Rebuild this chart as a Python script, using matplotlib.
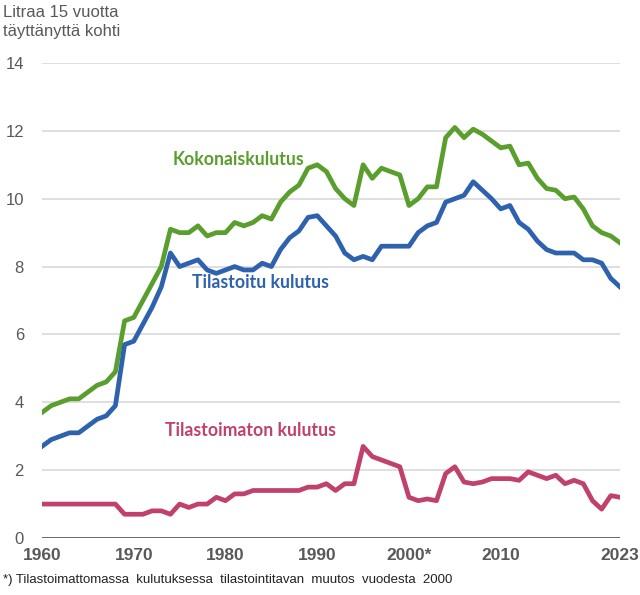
import matplotlib
matplotlib.use("Agg")
import matplotlib.pyplot as plt

years = list(range(1960, 2024))

kokonais = [3.7, 3.9, 4.0, 4.1, 4.1, 4.3, 4.5, 4.6, 4.9, 6.4,
            6.5, 7.0, 7.5, 8.0, 9.1, 9.0, 9.0, 9.2, 8.9, 9.0,
            9.0, 9.3, 9.2, 9.3, 9.5, 9.4, 9.9, 10.2, 10.4, 10.9,
            11.0, 10.8, 10.3, 10.0, 9.8, 11.0, 10.6, 10.9, 10.8, 10.7,
            9.8, 10.0, 10.35, 10.35, 11.8, 12.1, 11.8, 12.05, 11.9, 11.7,
            11.5, 11.55, 11.0, 11.05, 10.6, 10.3, 10.25, 10.0, 10.05, 9.7,
            9.2, 9.0, 8.9, 8.7]

tilastoitu = [2.7, 2.9, 3.0, 3.1, 3.1, 3.3, 3.5, 3.6, 3.9, 5.7,
              5.8, 6.3, 6.8, 7.4, 8.4, 8.0, 8.1, 8.2, 7.9, 7.8,
              7.9, 8.0, 7.9, 7.9, 8.1, 8.0, 8.5, 8.85, 9.05, 9.45,
              9.5, 9.2, 8.9, 8.4, 8.2, 8.3, 8.2, 8.6, 8.6, 8.6,
              8.6, 9.0, 9.2, 9.3, 9.9, 10.0, 10.1, 10.5, 10.25, 10.0,
              9.7, 9.8, 9.3, 9.1, 8.75, 8.5, 8.4, 8.4, 8.4, 8.2,
              8.2, 8.1, 7.65, 7.4]

tilastoimaton = [1.0, 1.0, 1.0, 1.0, 1.0, 1.0, 1.0, 1.0, 1.0, 0.7,
                 0.7, 0.7, 0.8, 0.8, 0.7, 1.0, 0.9, 1.0, 1.0, 1.2,
                 1.1, 1.3, 1.3, 1.4, 1.4, 1.4, 1.4, 1.4, 1.4, 1.5,
                 1.5, 1.6, 1.4, 1.6, 1.6, 2.7, 2.4, 2.3, 2.2, 2.1,
                 1.2, 1.1, 1.15, 1.1, 1.9, 2.1, 1.65, 1.6, 1.65, 1.75,
                 1.75, 1.75, 1.7, 1.95, 1.85, 1.75, 1.85, 1.6, 1.7, 1.6,
                 1.1, 0.85, 1.25, 1.2]

xtick_years = [1960, 1970, 1980, 1990, 2000, 2010, 2023]
xtick_labels = ["1960", "1970", "1980", "1990", "2000*", "2010", "2023"]
yticks = [0, 2, 4, 6, 8, 10, 12, 14]

GREEN = "#5a9f2e"
BLUE = "#2f62ae"
PINK = "#c1416e"
GREY = "#595959"

plt.rcParams['font.family'] = ['Liberation Sans', 'DejaVu Sans']

W, H = 640, 595
fig = plt.figure(figsize=(W / 100, H / 100), dpi=100)
ax = fig.add_axes([42 / W, 1 - 538 / H, (620 - 42) / W, (538 - 63) / H])

ax.plot(years, kokonais, color=GREEN, lw=3.4, solid_joinstyle='round', zorder=3)
ax.plot(years, tilastoitu, color=BLUE, lw=3.4, solid_joinstyle='round', zorder=3)
ax.plot(years, tilastoimaton, color=PINK, lw=3.4, solid_joinstyle='round', zorder=3)

ax.set_xlim(1960, 2023)
ax.set_ylim(0, 14)
ax.set_yticks(yticks)
ax.set_yticklabels([str(v) for v in yticks], color=GREY, fontsize=12)
ax.set_xticks(xtick_years)
ax.set_xticklabels(xtick_labels, color=GREY, fontsize=12.5, fontweight='bold')
ax.tick_params(axis='both', length=0)
ax.tick_params(axis='y', pad=13)
ax.tick_params(axis='x', pad=7)

for v in yticks[1:]:
    ax.axhline(v, color="#d9d9d9", lw=1.2, zorder=1)
ax.axhline(0, color=GREY, lw=2, zorder=2)

for s in ax.spines.values():
    s.set_visible(False)
ax.set_clip_on(False)

lab_font = ['Lato', 'DejaVu Sans']
ax.text(1974.2, 11.15, "Kokonaiskulutus", color=GREEN, fontsize=12.7,
        fontweight='bold', family=lab_font, va='center', ha='left')
ax.text(1976.4, 7.52, "Tilastoitu kulutus", color=BLUE, fontsize=12.7,
        fontweight='bold', family=lab_font, va='center', ha='left')
ax.text(1973.4, 3.18, "Tilastoimaton kulutus", color=PINK, fontsize=12.7,
        fontweight='bold', family=lab_font, va='center', ha='left')

fig.text(3 / W, 1 - 5 / H, "Litraa 15 vuotta\ntäyttänyttä kohti", color=GREY,
         fontsize=12, va='top', ha='left', linespacing=1.35)

fig.text(3 / W, 1 - 580 / H,
         "*) Tilastoimattomassa  kulutuksessa  tilastointitavan  muutos  vuodesta  2000",
         color="#222222", fontsize=9.5, va='center', ha='left')

fig.savefig("out.png", dpi=100)
